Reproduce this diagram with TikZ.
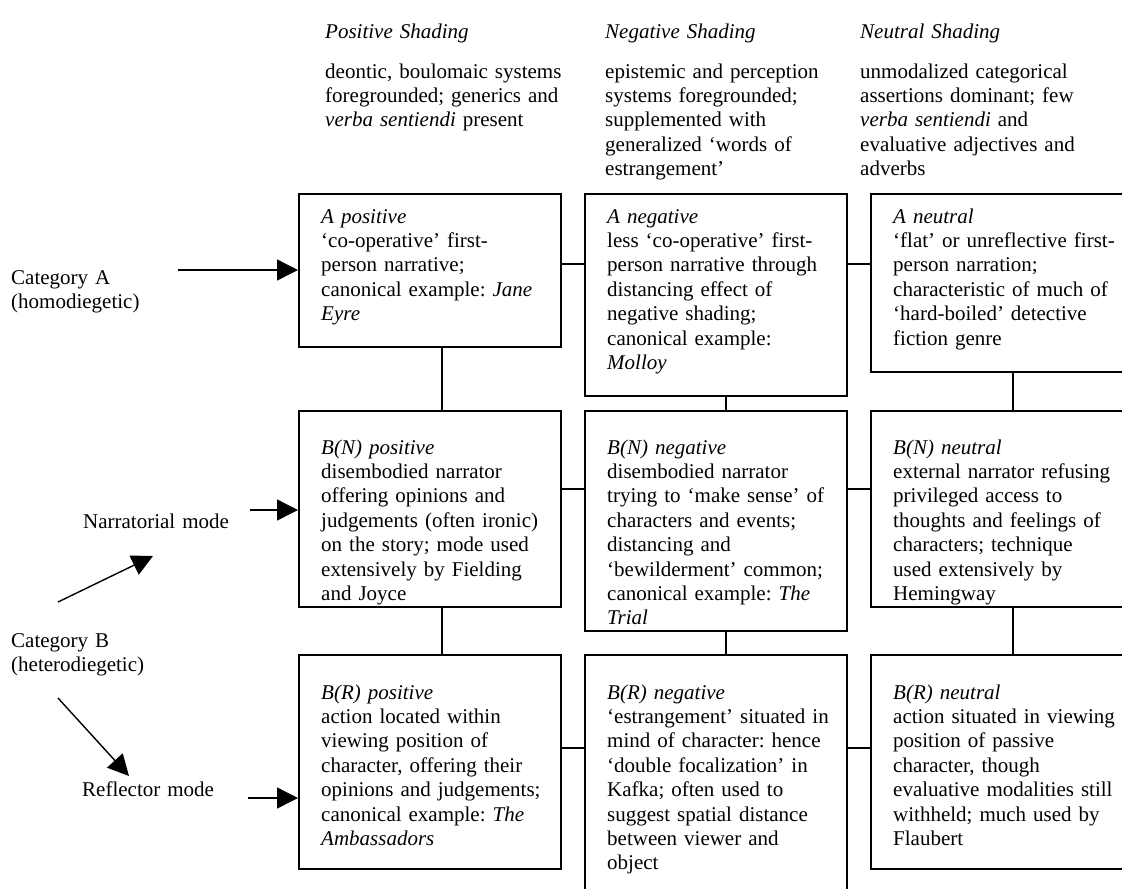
\documentclass[tikz,border=0pt]{standalone}
\usepackage{fontspec}
\setmainfont{Liberation Serif}
\usetikzlibrary{arrows.meta}
\frenchspacing
\begin{document}
\begin{tikzpicture}[x=1pt, y=-1pt,
  txt/.style={inner sep=0pt, anchor=base west, text width=250pt, align=left,
              font=\fontsize{21}{24.4}\selectfont},
  frame/.style={draw, line width=1.5pt, inner sep=0pt, anchor=north west,
                minimum width=262pt},
  link/.style={line width=1.4pt},
  pointer/.style={line width=1.4pt, -{Triangle[length=21pt,width=21pt]}},
]
\fill[white] (0,0) rectangle (1122,889);
\clip (0,0) rectangle (1122,889);
\path[use as bounding box] (0,0) rectangle (1122,889);

% column headings
\node[txt] (hpos) at (325,38) {\textit{Positive Shading}};
\node[txt] (hneg) at (605,38) {\textit{Negative Shading}};
\node[txt] (hneu) at (860,38) {\textit{Neutral Shading}};
\node[txt] (dpos) at (325,78) {deontic, boulomaic systems\\foregrounded; generics and\\\textit{verba sentiendi} present};
\node[txt] (dneg) at (605,78) {epistemic and perception\\systems foregrounded;\\supplemented with\\generalized ‘words of\\estrangement’};
\node[txt] (dneu) at (860,78) {unmodalized categorical\\assertions dominant; few\\\textit{verba sentiendi} and\\evaluative adjectives and\\adverbs};

% frames of the nine cells
\node[frame, minimum height=153pt] (Apos) at (298,193) {};
\node[frame, minimum height=202pt] (Aneg) at (584,193) {};
\node[frame, minimum height=178pt] (Aneu) at (870,193) {};
\node[frame, minimum height=196pt] (BNpos) at (298,410) {};
\node[frame, minimum height=220pt] (BNneg) at (584,410) {};
\node[frame, minimum height=196pt] (BNneu) at (870,410) {};
\node[frame, minimum height=214pt] (BRpos) at (298,654) {};
\node[frame, minimum height=260pt] (BRneg) at (584,654) {};
\node[frame, minimum height=214pt] (BRneu) at (870,654) {};

% cell texts
\node[txt] (tApos) at (321,223) {\textit{A positive}\\‘co-operative’ first-\\person narrative;\\canonical example: \textit{Jane}\\\textit{Eyre}};
\node[txt] (tAneg) at (607,223) {\textit{A negative}\\less ‘co-operative’ first-\\person narrative through\\distancing effect of\\negative shading;\\canonical example:\\\textit{Molloy}};
\node[txt] (tAneu) at (893,223) {\textit{A neutral}\\‘flat’ or unreflective first-\\person narration;\\characteristic of much of\\‘hard-boiled’ detective\\fiction genre};
\node[txt] (tBNpos) at (321,454) {\textit{B(N) positive}\\disembodied narrator\\offering opinions and\\judgements (often ironic)\\on the story; mode used\\extensively by Fielding\\and Joyce};
\node[txt] (tBNneg) at (607,454) {\textit{B(N) negative}\\disembodied narrator\\trying to ‘make sense’ of\\characters and events;\\distancing and\\‘bewilderment’ common;\\canonical example: \textit{The}\\\textit{Trial}};
\node[txt] (tBNneu) at (893,454) {\textit{B(N) neutral}\\external narrator refusing\\privileged access to\\thoughts and feelings of\\characters; technique\\used extensively by\\Hemingway};
\node[txt] (tBRpos) at (321,699) {\textit{B(R) positive}\\action located within\\viewing position of\\character, offering their\\opinions and judgements;\\canonical example: \textit{The}\\\textit{Ambassadors}};
\node[txt] (tBRneg) at (607,699) {\textit{B(R) negative}\\‘estrangement’ situated in\\mind of character: hence\\‘double focalization’ in\\Kafka; often used to\\suggest spatial distance\\between viewer and\\object};
\node[txt] (tBRneu) at (893,699) {\textit{B(R) neutral}\\action situated in viewing\\position of passive\\character, though\\evaluative modalities still\\withheld; much used by\\Flaubert};

% grid links between cells
\coordinate (rowA) at (0,264);
\coordinate (rowBN) at (0,489);
\coordinate (rowBR) at (0,748);
\coordinate (colP) at (442,0);
\coordinate (colG) at (726,0);
\coordinate (colU) at (1013,0);
\draw[link] (Apos.east |- rowA) -- (Aneg.west |- rowA);
\draw[link] (Aneg.east |- rowA) -- (Aneu.west |- rowA);
\draw[link] (BNpos.east |- rowBN) -- (BNneg.west |- rowBN);
\draw[link] (BNneg.east |- rowBN) -- (BNneu.west |- rowBN);
\draw[link] (BRpos.east |- rowBR) -- (BRneg.west |- rowBR);
\draw[link] (BRneg.east |- rowBR) -- (BRneu.west |- rowBR);
\draw[link] (Apos.south -| colP) -- (BNpos.north -| colP);
\draw[link] (BNpos.south -| colP) -- (BRpos.north -| colP);
\draw[link] (Aneg.south -| colG) -- (BNneg.north -| colG);
\draw[link] (BNneg.south -| colG) -- (BRneg.north -| colG);
\draw[link] (Aneu.south -| colU) -- (BNneu.north -| colU);
\draw[link] (BNneu.south -| colU) -- (BRneu.north -| colU);

% narrative categories on the left
\node[txt] (catA) at (11,284) {Category A\\(homodiegetic)};
\node[txt] (narr) at (83,528) {Narratorial mode};
\node[txt] (catB) at (11,647) {Category B\\(heterodiegetic)};
\node[txt] (refl) at (82,796) {Reflector mode};

\coordinate (catAtail) at (178,270);
\coordinate (narrtail) at (250,510);
\coordinate (refltail) at (248,798);
\draw[pointer] (catAtail) -- (catAtail -| Apos.west);
\draw[pointer] (narrtail) -- (narrtail -| BNpos.west);
\draw[pointer] (refltail) -- (refltail -| BRpos.west);

\coordinate (upfrom) at (58,602);
\coordinate (upto) at (153,556);
\coordinate (downfrom) at (58,698);
\coordinate (downto) at (129,776);
\draw[pointer] (upfrom) -- (upto);
\draw[pointer] (downfrom) -- (downto);
\end{tikzpicture}
\end{document}
